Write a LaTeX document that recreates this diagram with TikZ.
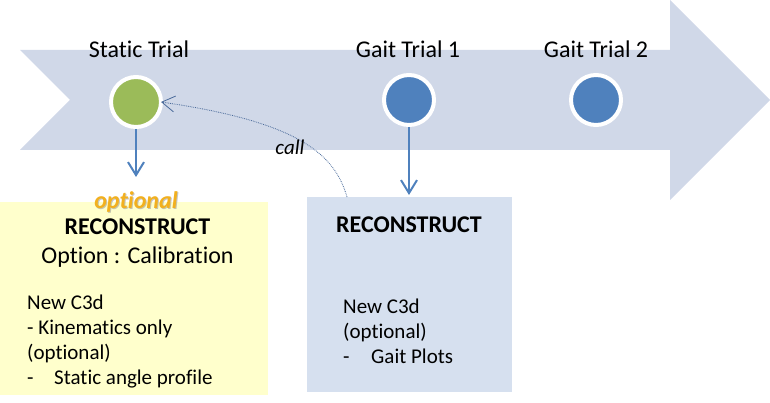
\documentclass[tikz,border=0pt]{standalone}
\usepackage{fontspec}
\setmainfont{Carlito}[Ligatures={NoCommon}]
\usetikzlibrary{arrows.meta}
\definecolor{arrowfill}{HTML}{D0D8E8}
\definecolor{greenc}{HTML}{9BBB59}
\definecolor{bluec}{HTML}{4F81BD}
\definecolor{yellowbox}{HTML}{FFFFCC}
\definecolor{bluebox}{HTML}{D6E0EF}
\definecolor{goldtxt}{HTML}{F2B01E}
\definecolor{callline}{HTML}{4A6A9A}
\tikzset{
  trial/.style={circle,draw=white,line width=4pt,minimum size=50pt,inner sep=0pt},
  lbl/.style={anchor=base,inner sep=0pt,font=\fontsize{24}{29}\selectfont},
  body/.style={anchor=base west,inner sep=0pt,font=\fontsize{21}{25}\selectfont},
  downarrow/.style={draw=bluec,line width=2pt,-{Straight Barb[length=13pt,width=16pt,line width=2pt]}},
}
\begin{document}
\begin{tikzpicture}[x=1pt,y=-1pt]
\useasboundingbox (0,0) rectangle (770,403);
% big arrow
\fill[arrowfill] (20,50) -- (670,50) -- (670,0) -- (770,100) -- (670,200) -- (670,150) -- (20,150) -- (70,100) -- cycle;
% boxes
\fill[yellowbox] (0,202) rectangle (268,395);
\fill[bluebox] (307,197) rectangle (512,392);
\coordinate (callstart) at (347,197);
% circles
\node[trial,fill=greenc] (st) at (136,102) {};
\node[trial,fill=bluec] (g1) at (409,100) {};
\node[trial,fill=bluec] (g2) at (596,100) {};
% labels
\node[lbl] (stl) at (139,58) {Static Trial};
\node[lbl] (g1l) at (408,58) {Gait Trial 1};
\node[lbl] (g2l) at (596,58) {Gait Trial 2};
% down arrows
\coordinate (stdown) at (136,177);
\coordinate (g1down) at (409,195);
\draw[downarrow] (st.south) -- (stdown);
\draw[downarrow] (g1.south) -- (g1down);
% call curve
\draw[callline,densely dotted,line width=0.8pt,-{Straight Barb[length=13pt,width=16pt,line width=0.8pt]}]
  (callstart) .. controls (335,155) and (300,122) .. (161,102);
\node[anchor=base,inner sep=0pt,font=\fontsize{21}{25}\selectfont\itshape] (call) at (290,155) {call};
% left box text
\node[anchor=base,inner sep=0pt,font=\fontsize{24}{29}\selectfont\bfseries\itshape,text=black!45,opacity=0.5] (optsh) at (137,210) {optional};
\node[anchor=base,inner sep=0pt,font=\fontsize{24}{29}\selectfont\bfseries\itshape,text=goldtxt] (opt) at (136,209) {optional};
\node[lbl,font=\fontsize{24}{29}\selectfont\bfseries] (rec1) at (137.5,234) {RECONSTRUCT};
\node[lbl] (calib) at (137.5,263) {Option : Calibration};
\node[body] (l1) at (27,309) {New C3d};
\node[body] (l2) at (27,334) {- Kinematics only};
\node[body] (l3) at (27,359) {(optional)};
\node[body] (l4) at (27,384) {-};
\node[body] (l5) at (54,384) {Static angle profile};
% right box text
\node[lbl,font=\fontsize{24}{29}\selectfont\bfseries] (rec2) at (409,233) {RECONSTRUCT};
\node[body] (r1) at (343,313) {New C3d};
\node[body] (r2) at (343,338) {(optional)};
\node[body] (r3) at (343,363) {-};
\node[body] (r4) at (371,363) {Gait Plots};
\end{tikzpicture}
\end{document}
